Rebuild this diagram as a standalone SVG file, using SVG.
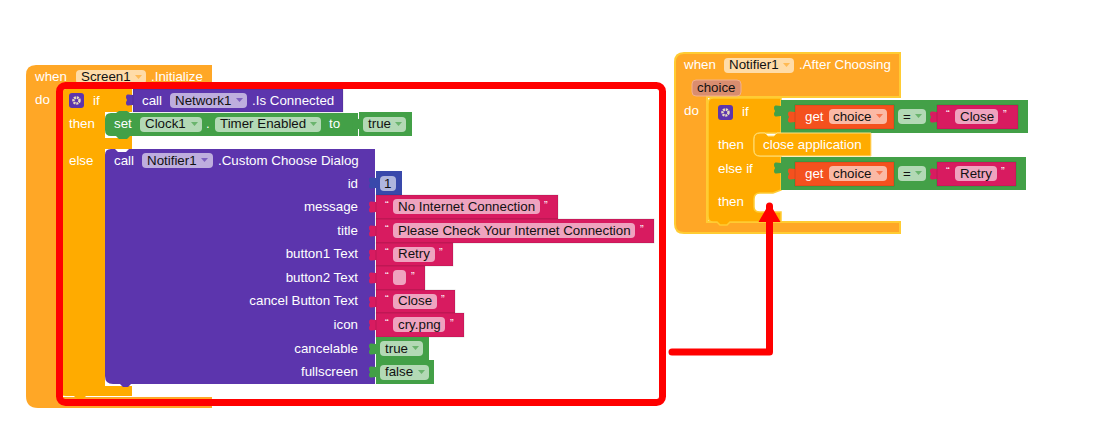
<svg xmlns="http://www.w3.org/2000/svg" width="1102" height="441" viewBox="0 0 1102 441">
<style>
text{font-family:"Liberation Sans",Arial,sans-serif;font-size:13.33px;fill:#fff}
.d{fill:#111}
.e{text-anchor:end}
.ev{fill:#ffa726}
.if{fill:#ffab00}
.pu{fill:#5c35ad}
.gr{fill:#43a047}
.pk{fill:#d81b60}
.og{fill:#f4511e}
.bl{fill:#3949ab}
.f{stroke:none;fill:#fff;fill-opacity:.6}
.b{stroke-width:1;stroke-opacity:.12;stroke:#000}
.q{font-size:11px}
.c{fill-opacity:.65}
</style>
<defs>
<path id="tab" d="M0 1C-3 1 -7 -1 -7 3C-7 5 -6 5 -6 6C-6 7 -7 7 -7 9C-7 13 -3 11 0 11Z"/>
<path id="caret" d="M0 0H7L3.500 4Z"/>
<path id="bump" d="M0 0L3 3H9L12 0Z"/>
<g id="gear"><rect width="15" height="15" rx="3" fill="#5c35ad"/><circle cx="7.500" cy="7.500" r="3" fill="none" stroke="#e8dcc0" stroke-width="2.500" stroke-dasharray="2 0.800"/></g>
<marker id="head" markerUnits="userSpaceOnUse" markerWidth="24" markerHeight="24" refX="16" refY="12" orient="auto"><path d="M0 1L19 12L0 23Z" fill="#f00"/></marker>
</defs>

<g id="screen-initialize">
<path class="ev" d="M26 75Q26 65 36 65H212V88H60V397H212V408H38Q26 408 26 396Z"/>
<text x="35" y="81">when</text>
<rect class="f" x="76" y="70" width="70" height="14" rx="4"/>
<text class="d" x="81" y="81">Screen1</text>
<use href="#caret" class="c" x="135" y="75" fill="#ffa726"/>
<text x="151" y="81">.Initialize</text>
<text x="35" y="104">do</text>
</g>

<g id="if-connected">
<path class="if" d="M66 89H132V112H105V136H132V149H105V386H132V396H66Q60 396 60 390V95Q60 89 66 89Z"/>
<use href="#bump" class="if" x="74" y="396"/>
<use href="#gear" x="69" y="93"/>
<text x="93" y="105">if</text>
<text x="69" y="128">then</text>
<text x="69" y="165">else</text>
</g>

<g id="call-network">
<use href="#tab" class="pu" x="133" y="94"/>
<rect class="pu b" x="133" y="89" width="210" height="23"/>
<text x="142" y="105">call</text>
<rect class="f" x="170" y="93" width="77" height="15" rx="4"/>
<text class="d" x="175" y="105">Network1</text>
<use href="#caret" class="c" x="236" y="98" fill="#5c35ad"/>
<text x="252" y="105">.Is Connected</text>
</g>

<g id="set-timer">
<path fill="#fff" d="M105 130H120V138H105Z"/>
<path class="gr" d="M111 113H116L119 111H127L130 113H358V136H130L127 139H119L116 136H111Q105 136 105 130V119Q105 113 111 113Z"/>
<text x="114" y="128">set</text>
<rect class="f" x="140" y="117" width="62" height="15" rx="4"/>
<text class="d" x="145" y="128">Clock1</text>
<use href="#caret" class="c" x="191" y="122" fill="#43a047"/>
<text x="206" y="128">.</text>
<rect class="f" x="215" y="117" width="106" height="15" rx="4"/>
<text class="d" x="220" y="128">Timer Enabled</text>
<use href="#caret" class="c" x="310" y="122" fill="#43a047"/>
<text x="329" y="128">to</text>
</g>
<g id="true-timer">
<use href="#tab" class="gr" x="359" y="118"/>
<rect class="gr" x="359" y="112" width="53" height="24"/>
<rect class="f" x="363" y="117" width="43" height="15" rx="4"/>
<text class="d" x="368" y="128">true</text>
<use href="#caret" class="c" x="395" y="122" fill="#43a047"/>
</g>

<g id="custom-dialog">
<path fill="#fff" d="M105 378V386H120V378Z"/>
<path class="pu" d="M111 149H115L118 152H126L129 149H375V384H131L128 387H123L120 384H113Q105 384 105 376V155Q105 149 111 149Z"/>
<text x="114" y="165">call</text>
<rect class="f" x="142" y="153" width="71" height="15" rx="4"/>
<text class="d" x="147" y="165">Notifier1</text>
<use href="#caret" class="c" x="201" y="158" fill="#5c35ad"/>
<text x="218" y="165">.Custom Choose Dialog</text>
<text class="e" x="358" y="188">id</text>
<text class="e" x="358" y="211">message</text>
<text class="e" x="358" y="235">title</text>
<text class="e" x="358" y="258">button1 Text</text>
<text class="e" x="358" y="282">button2 Text</text>
<text class="e" x="358" y="305">cancel Button Text</text>
<text class="e" x="358" y="329">icon</text>
<text class="e" x="358" y="353">cancelable</text>
<text class="e" x="358" y="376">fullscreen</text>
</g>

<g id="val-id">
<use href="#tab" class="bl" x="376" y="177"/>
<rect class="bl" x="376" y="171" width="26" height="24"/>
<rect class="f" x="380" y="176" width="16" height="15" rx="4"/>
<text class="d" x="384" y="188">1</text>
</g>
<g id="val-message">
<use href="#tab" class="pk" x="376" y="201"/>
<rect class="pk b" x="376" y="195" width="182" height="24"/>
<text class="q" x="385" y="209">“</text>
<rect class="f" x="393" y="199" width="147" height="15" rx="4"/>
<text class="d" x="398" y="211">No Internet Connection</text>
<text class="q" x="544" y="209">”</text>
</g>
<g id="val-title">
<use href="#tab" class="pk" x="376" y="225"/>
<rect class="pk b" x="376" y="219" width="278" height="24"/>
<text class="q" x="385" y="233">“</text>
<rect class="f" x="393" y="223" width="242" height="15" rx="4"/>
<text class="d" x="398" y="235">Please Check Your Internet Connection</text>
<text class="q" x="640" y="233">”</text>
</g>
<g id="val-button1">
<use href="#tab" class="pk" x="376" y="249"/>
<rect class="pk b" x="376" y="243" width="77" height="23"/>
<text class="q" x="385" y="256">“</text>
<rect class="f" x="393" y="247" width="42" height="15" rx="4"/>
<text class="d" x="398" y="258">Retry</text>
<text class="q" x="439" y="256">”</text>
</g>
<g id="val-button2">
<use href="#tab" class="pk" x="376" y="272"/>
<rect class="pk b" x="376" y="266" width="49" height="24"/>
<text class="q" x="385" y="280">“</text>
<rect class="f" x="393" y="270" width="13" height="15" rx="4"/>
<text class="q" x="411" y="280">”</text>
</g>
<g id="val-cancel">
<use href="#tab" class="pk" x="376" y="296"/>
<rect class="pk b" x="376" y="290" width="79" height="23"/>
<text class="q" x="385" y="303">“</text>
<rect class="f" x="393" y="294" width="44" height="15" rx="4"/>
<text class="d" x="398" y="305">Close</text>
<text class="q" x="441" y="303">”</text>
</g>
<g id="val-icon">
<use href="#tab" class="pk" x="376" y="319"/>
<rect class="pk b" x="376" y="313" width="88" height="24"/>
<text class="q" x="385" y="327">“</text>
<rect class="f" x="393" y="317" width="52" height="15" rx="4"/>
<text class="d" x="398" y="329">cry.png</text>
<text class="q" x="450" y="327">”</text>
</g>
<g id="val-cancelable">
<use href="#tab" class="gr" x="376" y="343"/>
<rect class="gr" x="376" y="337" width="53" height="23"/>
<rect class="f" x="380" y="341" width="43" height="15" rx="4"/>
<text class="d" x="385" y="353">true</text>
<use href="#caret" class="c" x="412" y="346" fill="#43a047"/>
</g>
<g id="val-fullscreen">
<use href="#tab" class="gr" x="376" y="366"/>
<rect class="gr" x="376" y="360" width="58" height="24"/>
<rect class="f" x="380" y="365" width="49" height="15" rx="4"/>
<text class="d" x="385" y="376">false</text>
<use href="#caret" class="c" x="418" y="370" fill="#43a047"/>
</g>

<g id="notifier-after-choosing">
<path class="ev" stroke="#ffcc33" stroke-width="2" d="M675 62Q675 53 684 53H900V97H707V222H900V233H684Q675 233 675 224Z"/>
<text x="684" y="69">when</text>
<rect class="f" x="724" y="58" width="70" height="15" rx="4"/>
<text class="d" x="729" y="69">Notifier1</text>
<use href="#caret" class="c" x="783" y="63" fill="#ffa726"/>
<text x="799" y="69">.After Choosing</text>
<rect x="692" y="80" width="49" height="16" rx="4" fill="#d98d6f" stroke="#f3b08d"/>
<text class="d" x="697" y="92">choice</text>
<text x="684" y="115">do</text>
</g>

<g id="if-choice">
<path class="if" stroke="#ffcc33" stroke-width="1.500" d="M713 98H781V133H760Q754 133 754 139V150Q754 156 760 156H781V190L773 193H760Q754 193 754 199V207Q754 212 760 212H781V222H730L727 225H720L717 222H713Q708 222 708 216V104Q708 98 713 98Z"/>
<use href="#gear" x="718" y="105"/>
<text x="742" y="116">if</text>
<text x="718" y="149">then</text>
<text x="718" y="173">else if</text>
<text x="718" y="206">then</text>
</g>

<g id="cond-close">
<use href="#tab" class="gr" x="781" y="105"/>
<rect class="gr" x="781" y="100" width="247" height="33"/>
<use href="#tab" class="og" x="795" y="111"/>
<rect class="og b" x="795" y="105" width="99" height="24"/>
<text x="805" y="121">get</text>
<rect class="f" x="829" y="109" width="58" height="15" rx="4"/>
<text class="d" x="833" y="121">choice</text>
<use href="#caret" class="c" x="876" y="114" fill="#f4511e"/>
<rect class="f" x="898" y="109" width="28" height="15" rx="4"/>
<text class="d" x="903" y="121">=</text>
<use href="#caret" class="c" x="915" y="114" fill="#43a047"/>
<use href="#tab" class="pk" x="937" y="111"/>
<rect class="pk b" x="937" y="105" width="81" height="24"/>
<text class="q" x="946" y="118">“</text>
<rect class="f" x="955" y="109" width="43" height="15" rx="4"/>
<text class="d" x="960" y="121">Close</text>
<text class="q" x="1003" y="118">”</text>
</g>

<g id="close-application">
<path class="if" stroke="#ffe082" d="M760 133H765L768 136H774L777 133H871V156H760Q754 156 754 150V139Q754 133 760 133Z"/>
<text x="763" y="149">close application</text>
</g>

<g id="cond-retry">
<use href="#tab" class="gr" x="781" y="162"/>
<rect class="gr" x="781" y="157" width="245" height="33"/>
<use href="#tab" class="og" x="795" y="168"/>
<rect class="og b" x="795" y="162" width="99" height="24"/>
<text x="805" y="178">get</text>
<rect class="f" x="829" y="166" width="58" height="15" rx="4"/>
<text class="d" x="833" y="178">choice</text>
<use href="#caret" class="c" x="876" y="171" fill="#f4511e"/>
<rect class="f" x="898" y="166" width="28" height="15" rx="4"/>
<text class="d" x="903" y="178">=</text>
<use href="#caret" class="c" x="915" y="171" fill="#43a047"/>
<use href="#tab" class="pk" x="937" y="168"/>
<rect class="pk b" x="937" y="162" width="79" height="24"/>
<text class="q" x="946" y="175">“</text>
<rect class="f" x="955" y="166" width="42" height="15" rx="4"/>
<text class="d" x="960" y="178">Retry</text>
<text class="q" x="1001" y="175">”</text>
</g>

<g id="connectors">
<rect x="59.500" y="85.500" width="603" height="317" rx="6" fill="none" stroke="#f00" stroke-width="7"/>
<path d="M672 352H769.500V206" fill="none" stroke="#f00" stroke-width="7" stroke-linecap="round" stroke-linejoin="round" marker-end="url(#head)"/>
</g>
</svg>
